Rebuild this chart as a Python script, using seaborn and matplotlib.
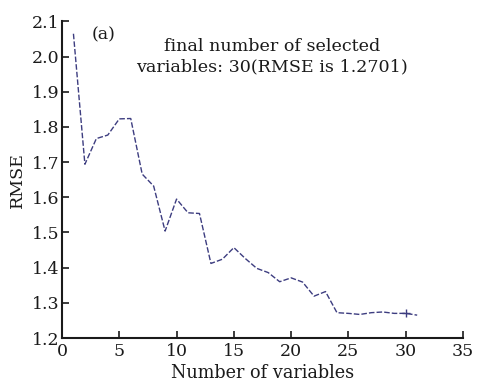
import matplotlib
matplotlib.use("Agg")
import matplotlib.pyplot as plt
import seaborn as sns
import pandas as pd

num_vars = list(range(1, 32))
rmse = [2.065, 1.694, 1.767, 1.777, 1.823, 1.824, 1.666, 1.632, 1.504, 1.595,
        1.556, 1.554, 1.412, 1.424, 1.457, 1.426, 1.398, 1.386, 1.360, 1.371,
        1.359, 1.319, 1.332, 1.272, 1.270, 1.267, 1.272, 1.274, 1.270, 1.2701,
        1.265]
final_n = 30
final_rmse = 1.2701
xticks = [0, 5, 10, 15, 20, 25, 30, 35]
yticks = [1.2, 1.3, 1.4, 1.5, 1.6, 1.7, 1.8, 1.9, 2.0, 2.1]

sns.set_style("ticks")
plt.rcParams['font.family'] = ['DejaVu Serif']

df = pd.DataFrame({"n": num_vars, "rmse": rmse})

fig = plt.figure(figsize=(4.79, 3.87), dpi=100)
ax = fig.add_axes([0.1294, 0.1266, 0.8372, 0.8180])
line_color = "#3d3d80"
sns.lineplot(data=df, x="n", y="rmse", ax=ax, color=line_color, lw=1.0,
             linestyle=(0, (4, 1.5)))
ax.plot([final_n], [final_rmse], marker="+", color=line_color, ms=6, mew=1)

ax.set_xlim(0, 35)
ax.set_ylim(1.2, 2.1)
ax.set_xticks(xticks)
ax.set_yticks(yticks)
ax.set_xticklabels([str(t) for t in xticks])
ax.set_yticklabels([f"{t:.1f}" for t in yticks])
ax.tick_params(direction="in", length=5, width=1.2, labelsize=12.5,
               colors="#1a1a1a")
ax.tick_params(axis="x", pad=3.5)
ax.tick_params(axis="y", pad=2)
for s in ["top", "right"]:
    ax.spines[s].set_visible(False)
for s in ["left", "bottom"]:
    ax.spines[s].set_linewidth(1.5)
    ax.spines[s].set_color("#1a1a1a")

ax.set_xlabel("Number of variables", fontsize=12.7, labelpad=3, color="#1a1a1a")
ax.set_ylabel("RMSE", fontsize=12.5, labelpad=4, color="#1a1a1a")

ax.text(3.6, 2.063, "(a)", fontsize=12.5, ha="center", va="center", color="#1a1a1a")
ax.text(18.3, 2.0, "final number of selected\nvariables: 30(RMSE is 1.2701)",
        fontsize=12.6, ha="center", va="center", linespacing=1.3, color="#1a1a1a")

fig.savefig("out.png", dpi=100, facecolor="white")
